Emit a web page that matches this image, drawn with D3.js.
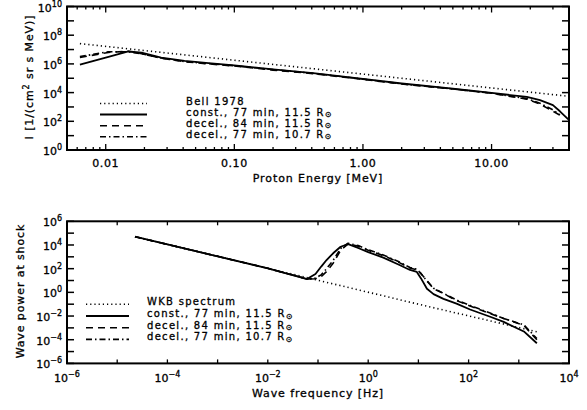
<!DOCTYPE html>
<html><head><meta charset="utf-8">
<script src="https://cdn.jsdelivr.net/npm/d3@7"></script>
<style>
html,body{margin:0;padding:0;background:#fff;}
svg text{font-family:"DejaVu Sans",sans-serif;fill:#000;stroke:#000;stroke-width:0.3px;}
</style></head>
<body><svg id="c" width="587" height="410"></svg>
<script>
// ---------------- DATA ----------------
// Top panel: proton intensity vs energy
const energyMeV   = [0.0063,0.0105,0.015,0.019,0.027,0.041,0.063,0.1,0.2,0.41,1.0,2.0,5.0,10,18.8,23.8,30,34,39.5];
const constTop    = [8.9e5,3.1e6,7.5e6,6.0e6,2.75e6,1.6e6,1.15e6,7.9e5,4.2e5,2.3e5,9.1e4,4.3e4,1.9e4,9.5e3,5.0e3,3.0e3,1.33e3,5.0e2,1.35e2];
const decel84Top  = [2.8e6,6.3e6,7.6e6,5.2e6,2.5e6,1.4e6,1.0e6,7.1e5,3.7e5,2.1e5,8.3e4,4.0e4,1.8e4,8.9e3,3.5e3,1.6e3,5.0e2,2.7e2,null];
const decel77Top  = [3.2e6,7.1e6,6.8e6,5.0e6,2.6e6,1.45e6,1.05e6,7.4e5,4.0e5,2.2e5,8.7e4,4.1e4,1.8e4,9.1e3,3.8e3,1.8e3,6.3e2,2.8e2,null];
const bellEnergy  = [0.0063,0.1,1,10,40];
const bell1978    = [2.6e7,1.8e6,1.95e5,2.1e4,5.5e3];

// Bottom panel: wave power vs frequency
const frequencyHz   = [2.26e-5,1e-3,1e-2,0.0437,0.0603,0.0891,0.117,0.148,0.2,0.282,0.398,0.631,1,2.0,4.0,6.8,9.3,11.2,14.8,20,31.6,57.5,107,269,500,1260,2290];
const constBottom   = [5.0e4,1.1e3,107,19.5,13.2,35.5,158,537,2.0e3,7.1e3,1.17e4,5.6e3,2.5e3,851,224,77.6,52.5,15.8,2.0,0.71,0.28,0.112,0.0355,8.7e-3,3.2e-3,5.0e-4,5.0e-5];
const decel84Bottom = [5.0e4,1.1e3,107,19.5,13.2,14.1,22.4,56.2,282,3.55e3,1.26e4,7.9e3,3.55e3,1.26e3,355,112,79.4,39.8,10,2.0,0.79,0.2,0.071,0.0158,6.3e-3,1.6e-3,1.0e-4];
const decel77Bottom = [5.0e4,1.1e3,107,19.5,13.2,15.8,31.6,100,501,5.0e3,1.41e4,8.9e3,3.98e3,1.41e3,398,126,89,39.8,8.9,2.24,0.83,0.224,0.079,0.0178,6.3e-3,1.8e-3,1.26e-4];
const wkbFreq   = [2.26e-5,1e-3,0.1,10,2290];
const wkbPower  = [5.0e4,1.1e3,10.5,0.1,4.7e-4];

// Tick labels
const topXTicks    = [0.01,0.1,1,10];
const topXLabels   = ["0.01","0.10","1.00","10.00"];
const topYExps     = [0,2,4,6,8,10];
const botXExps     = [-6,-4,-2,0,2,4];
const botYExps     = [-6,-4,-2,0,2,4,6];

const topLegend = ["Bell 1978","const., 77 min, 11.5 R","decel., 84 min, 11.5 R","decel., 77 min, 10.7 R"];
const botLegend = ["WKB spectrum","const., 77 min, 11.5 R","decel., 84 min, 11.5 R","decel., 77 min, 10.7 R"];
const legendSun = [false,true,true,true];

// ---------------- DRAW ----------------
const svg = d3.select("#c");
const dashes = {dot:"1.2,3", solid:null, dash:"7,5", dashdot:"6,3,1.5,3"};
const FS = 11;

function sup(sel, base, exp){
  sel.append("tspan").text(base);
  sel.append("tspan").attr("dy",-5).attr("font-size",8).text(exp);
}

function panel(cfg){
  const g = svg.append("g");
  const x = d3.scaleLog().domain(cfg.xd).range([cfg.x0,cfg.x1]);
  const y = d3.scaleLog().domain(cfg.yd).range([cfg.y1,cfg.y0]);
  const id = "clip"+cfg.name;
  svg.append("clipPath").attr("id",id).append("rect")
     .attr("x",cfg.x0).attr("y",cfg.y0).attr("width",cfg.x1-cfg.x0).attr("height",cfg.y1-cfg.y0);

  // curves
  const line = d3.line().defined(d=>d[1]!=null).x(d=>x(d[0])).y(d=>y(d[1]));
  const cg = g.append("g").attr("clip-path",`url(#${id})`);
  cfg.series.forEach(s=>{
    cg.append("path").attr("d",line(s.xs.map((v,i)=>[v,s.ys[i]])))
      .attr("fill","none").attr("stroke","#000").attr("stroke-width",s.w||1.6)
      .attr("stroke-dasharray",dashes[s.style]).attr("stroke-linejoin","round");
  });

  // y ticks (every decade) left & right, inward
  const yDecs = d3.range(Math.round(Math.log10(cfg.yd[0])), Math.round(Math.log10(cfg.yd[1]))+1);
  yDecs.forEach(e=>{
    const yy = y(Math.pow(10,e));
    g.append("line").attr("x1",cfg.x0).attr("x2",cfg.x0+7).attr("y1",yy).attr("y2",yy).attr("stroke","#000").attr("stroke-width",1.5);
    g.append("line").attr("x1",cfg.x1).attr("x2",cfg.x1-7).attr("y1",yy).attr("y2",yy).attr("stroke","#000").attr("stroke-width",1.5);
  });
  // y labels
  cfg.yExps.forEach(e=>{
    const t = g.append("text").attr("x",cfg.x0-5).attr("y",y(Math.pow(10,e))+5)
      .attr("text-anchor","end").attr("font-size",FS);
    sup(t,"10", e<0 ? "\u2212"+(-e) : String(e));
  });

  // x ticks
  cfg.xTicks.forEach(tk=>{
    const xx = x(tk.v);
    g.append("line").attr("x1",xx).attr("x2",xx).attr("y1",cfg.y1).attr("y2",cfg.y1-tk.len).attr("stroke","#000").attr("stroke-width",1.3);
    g.append("line").attr("x1",xx).attr("x2",xx).attr("y1",cfg.y0).attr("y2",cfg.y0+tk.len).attr("stroke","#000").attr("stroke-width",1.3);
  });
  cfg.xLabels(g,x);

  // frame
  g.append("rect").attr("x",cfg.x0).attr("y",cfg.y0).attr("width",cfg.x1-cfg.x0).attr("height",cfg.y1-cfg.y0)
    .attr("fill","none").attr("stroke","#000").attr("stroke-width",2);

  // axis titles
  g.append("text").attr("x",(cfg.x0+cfg.x1)/2).attr("y",cfg.xTitleY).attr("text-anchor","middle")
    .attr("font-size",FS).attr("letter-spacing",0.9).call(cfg.xTitle);
  g.append("text").attr("transform",`translate(${cfg.yTitleX},${cfg.yTitleC}) rotate(-90)`)
    .attr("text-anchor","middle").attr("font-size",FS).attr("letter-spacing",0.9).call(cfg.yTitle);

  // legend
  const L = cfg.legend;
  L.labels.forEach((lab,i)=>{
    const yy = L.y0 + i*L.dy;
    g.append("line").attr("x1",L.lx0).attr("x2",L.lx1).attr("y1",yy).attr("y2",yy)
      .attr("stroke","#000").attr("stroke-width",L.styles[i]==="solid"?2:1.6)
      .attr("stroke-dasharray",dashes[L.styles[i]]);
    const t = g.append("text").attr("x",L.tx).attr("y",yy+1).attr("font-size",10).attr("letter-spacing",1.3);
    t.append("tspan").text(lab);
    if(legendSun[i]) t.append("tspan").attr("dy",1.5).attr("font-size",8).attr("letter-spacing",0).text("\u2299");
  });
}

// top panel ticks
const topMinor = [];
[0.001,0.01,0.1,1,10].forEach(d=>{ for(let k=2;k<=9;k++){ const v=d*k; if(v>=0.005 && v<=40) topMinor.push({v,len:3}); } });
const topTickObjs = topXTicks.map(v=>({v,len:6})).concat(topMinor);

panel({
  name:"top", x0:67, x1:569, y0:6.5, y1:150, xd:[0.005,40], yd:[1,1e10],
  yExps: topYExps,
  xTicks: topTickObjs,
  xLabels:(g,x)=>{ topXTicks.forEach((v,i)=>{
      g.append("text").attr("x",x(v)).attr("y",167).attr("text-anchor","middle").attr("font-size",FS).attr("letter-spacing",0.6).text(topXLabels[i]); }); },
  xTitleY:182, xTitle:t=>t.text("Proton Energy [MeV]"),
  yTitleX:33, yTitleC:77,
  yTitle:t=>{ t.append("tspan").text("I [1/(cm"); t.append("tspan").attr("dy",-4).attr("font-size",8).text("2");
              t.append("tspan").attr("dy",4).text(" sr s MeV)]"); },
  series:[
    {xs:bellEnergy, ys:bell1978, style:"dot", w:1.6},
    {xs:energyMeV, ys:constTop, style:"solid", w:1.8},
    {xs:energyMeV, ys:decel84Top, style:"dash", w:1.6},
    {xs:energyMeV, ys:decel77Top, style:"dashdot", w:1.6}
  ],
  legend:{labels:topLegend, styles:["dot","solid","dash","dashdot"], y0:103.5, dy:11.1, lx0:100, lx1:147, tx:186}
});

const botTickObjs = d3.range(-6,5).map(e=>({v:Math.pow(10,e),len:4}));
panel({
  name:"bot", x0:67, x1:569, y0:221.3, y1:363.4, xd:[1e-6,1e4], yd:[1e-6,1e6],
  yExps: botYExps,
  xTicks: botTickObjs,
  xLabels:(g,x)=>{ botXExps.forEach(e=>{
      const t = g.append("text").attr("x",x(Math.pow(10,e))).attr("y",382).attr("text-anchor","middle").attr("font-size",FS);
      sup(t,"10", e<0 ? "\u2212"+(-e) : String(e)); }); },
  xTitleY:397, xTitle:t=>t.text("Wave frequency [Hz]"),
  yTitleX:24, yTitleC:291,
  yTitle:t=>t.text("Wave power at shock"),
  series:[
    {xs:wkbFreq, ys:wkbPower, style:"dot", w:1.6},
    {xs:frequencyHz, ys:constBottom, style:"solid", w:1.8},
    {xs:frequencyHz, ys:decel84Bottom, style:"dash", w:1.6},
    {xs:frequencyHz, ys:decel77Bottom, style:"dashdot", w:1.6}
  ],
  legend:{labels:botLegend, styles:["dot","solid","dash","dashdot"], y0:304.3, dy:11.7, lx0:86, lx1:129, tx:147}
});
</script></body></html>
